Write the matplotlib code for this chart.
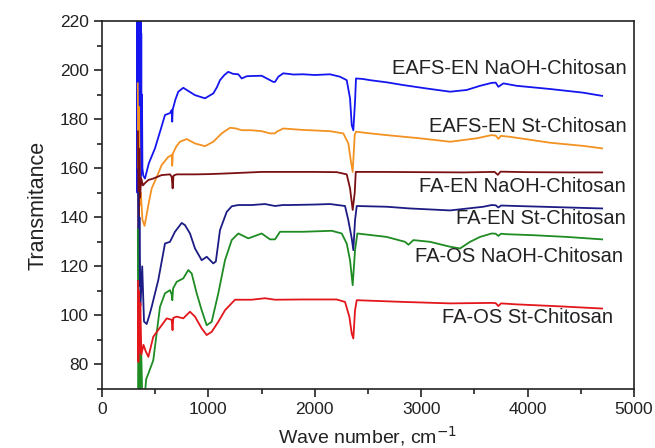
import numpy as np
import matplotlib
matplotlib.use('Agg')
import matplotlib.pyplot as plt
from matplotlib.ticker import MultipleLocator

# (wave number cm-1, transmittance)
eafs_naoh = [(331, 225), (333, 150), (335, 225), (337, 152), (339, 225), (341, 150), (343, 225),
             (345, 152), (347, 225), (349, 150), (351, 225), (353, 152), (355, 225), (357, 155),
             (359, 225), (361, 153), (363, 225), (366, 157), (369, 215), (372, 158), (376, 190),
             (380, 160), (388, 157), (404, 155.8), (440, 162), (498, 168.1), (560, 177),
             (592, 181.7), (640, 182.5), (655, 183.7), (660, 179), (665, 184), (690, 188), (717, 191.2),
             (764, 192.8), (811, 191.5), (874, 189.8), (968, 188.5), (1046, 190.5), (1080, 193),
             (1109, 195.9), (1150, 198), (1187, 199.3), (1230, 198.5), (1281, 198.3), (1313, 196.6),
             (1360, 197.5), (1407, 197.6), (1501, 197.7), (1579, 195.9), (1610, 195.2), (1626, 195.2),
             (1657, 197.3), (1704, 198.7), (1800, 198.2), (1892, 198.3), (2000, 198), (2143, 198.3),
             (2237, 197.3), (2300, 195.9), (2331, 188.5), (2347, 177.6), (2362, 175.5), (2378, 187.1),
             (2387, 196.6), (2450, 196.4), (2519, 195.9), (2680, 195), (2832, 193.9), (3052, 192.5),
             (3271, 191.2), (3427, 191.9), (3553, 193.6), (3662, 194.8), (3700, 194.9), (3725, 193.2),
             (3772, 194.6), (3897, 193.6), (4211, 192.3), (4523, 190.8), (4700, 189.5)]

eafs_st = [(336, 194.6), (342, 160), (348, 185), (355, 145), (365, 150), (380, 139), (400, 136.5),
           (415, 140), (440, 146), (467, 151.8), (520, 157), (561, 161.3), (620, 164.5), (655, 165.4),
           (660, 161), (666, 166), (700, 169), (733, 170.8), (796, 171.9), (874, 170.1), (968, 169),
           (1046, 170.8), (1125, 174.2), (1203, 176.5), (1260, 176.2), (1313, 175.5), (1400, 175.5),
           (1501, 175.1), (1579, 174.2), (1626, 174.2), (1642, 174.9), (1704, 176.2), (1892, 175.6),
           (2000, 175.4), (2143, 175.1), (2268, 174.2), (2315, 170.1), (2340, 162.6), (2356, 158.5),
           (2375, 173.5), (2387, 174.9), (2500, 174.3), (2675, 173.5), (2989, 172.2), (3271, 170.8),
           (3521, 172.2), (3662, 173.5), (3700, 173.3), (3725, 172), (3750, 173.2), (3835, 172.8),
           (4211, 170.4), (4523, 169.1), (4700, 168.1)]

fa_en_naoh = [(338, 175), (344, 135), (350, 168), (358, 148), (368, 156), (385, 153), (405, 154),
              (436, 155.2), (482, 155.8), (561, 157.2), (639, 157.5), (655, 156.5), (664, 151.8),
              (672, 157), (702, 157.5), (874, 157.5), (1000, 157.6), (1187, 157.9), (1501, 158.5),
              (1626, 158.5), (1800, 158.5), (2000, 158.5), (2206, 158.4), (2300, 157.5), (2331, 151.8),
              (2356, 143), (2375, 150), (2385, 158.5), (2600, 158.5), (3000, 158.4), (3400, 158.3),
              (3690, 158.5), (3720, 157.3), (3745, 158.6), (4000, 158.4), (4400, 158.3), (4700, 158.3)]

fa_en_st = [(340, 150), (346, 112), (352, 140), (362, 104), (378, 120), (395, 97.5), (420, 96.5),
            (445, 100), (467, 103.5), (529, 114.4), (592, 129.3), (639, 130), (686, 134.1),
            (749, 137.7), (780, 136.8), (827, 133.4), (874, 127.3), (937, 122.5), (984, 123.9),
            (1046, 121.2), (1070, 122), (1109, 134.8), (1172, 142.2), (1220, 144.5), (1281, 145),
            (1407, 145), (1532, 145.4), (1579, 145), (1626, 144.6), (1700, 145), (1767, 145),
            (2000, 145.2), (2143, 145.4), (2284, 144.6), (2315, 138.8), (2347, 131.4), (2362, 126.6),
            (2378, 138.8), (2394, 144.6), (2675, 144.3), (2895, 143.6), (3271, 142.8), (3584, 144.3),
            (3662, 145), (3700, 144.9), (3725, 144), (3750, 144.8), (3897, 144.6), (4300, 144.1),
            (4700, 143.6)]

fa_os_naoh = [(337, 135), (343, 65), (349, 105), (356, 66), (366, 90), (380, 64), (400, 66),
              (415, 74), (436, 76.3), (482, 81.7), (545, 103.5), (592, 109), (639, 110.3),
              (655, 108.5), (661, 106.2), (668, 111), (702, 113.7), (764, 115.1), (811, 118.5),
              (843, 117.1), (890, 109), (937, 102.1), (984, 96), (1031, 97.4), (1093, 109),
              (1156, 122.5), (1219, 130.7), (1281, 133.4), (1375, 131.4), (1501, 133.4), (1579, 131),
              (1626, 131), (1673, 134.1), (1892, 134.1), (2159, 134.5), (2253, 133.4), (2300, 129.3),
              (2331, 122.5), (2356, 112.3), (2378, 126.6), (2400, 133.4), (2675, 132), (2848, 130),
              (2880, 128.8), (2926, 130.7), (3083, 130), (3271, 128), (3365, 127.3), (3459, 130),
              (3553, 132), (3662, 133.4), (3700, 133.3), (3725, 132.4), (3750, 133.3), (3803, 133.1),
              (4054, 132.7), (4367, 132), (4700, 131)]

fa_os_st = [(338, 114), (342, 81), (347, 110), (353, 85), (360, 105), (370, 84), (390, 88),
            (410, 85.5), (436, 83.1), (482, 91.3), (561, 96), (608, 98.8), (655, 98.2), (663, 94),
            (670, 99), (702, 99.5), (764, 98.8), (827, 101.5), (874, 99.5), (937, 94.7), (984, 92),
            (1031, 93.3), (1093, 97.4), (1156, 102.1), (1250, 106.4), (1407, 106.4), (1532, 107),
            (1626, 106.4), (1892, 106.5), (2206, 106.5), (2284, 105.5), (2325, 99.4), (2347, 92.6),
            (2362, 90.6), (2378, 102.1), (2394, 106.2), (2832, 105.5), (3271, 104.9), (3662, 105.1),
            (3700, 105), (3725, 103.8), (3750, 104.9), (3897, 104.5), (4300, 103.7), (4700, 102.8)]

series = [
    (eafs_naoh, '#1515f0', 'EAFS-EN NaOH-Chitosan', 200.7),
    (eafs_st, '#f39222', 'EAFS-EN St-Chitosan', 176.9),
    (fa_en_naoh, '#7a1012', 'FA-EN NaOH-Chitosan', 152.4),
    (fa_en_st, '#1c1c85', 'FA-EN St-Chitosan', 139.5),
    (fa_os_naoh, '#1e8c22', 'FA-OS NaOH-Chitosan', 123.9),
    (fa_os_st, '#e3161c', 'FA-OS St-Chitosan', 99.2),
]
label_right = [4935, 4935, 4925, 4925, 4900, 4800]

plt.rcParams['font.family'] = ['Liberation Sans', 'DejaVu Sans']

fig = plt.figure(figsize=(6.55, 4.48), dpi=100)
ax = fig.add_axes([0.1557, 0.1317, 0.8123, 0.8213])

for (pts, col, name, ylab), xr in zip(series, label_right):
    wx, ty = np.array(pts).T
    ax.plot(wx, ty, color=col, lw=1.3)
    ax.text(xr, ylab, name, ha='right', va='center', fontsize=14.5, color='#222222')

ax.set_xlim(0, 5000)
ax.set_ylim(70, 220)
ax.xaxis.set_major_locator(MultipleLocator(1000))
ax.xaxis.set_minor_locator(MultipleLocator(500))
ax.yaxis.set_major_locator(MultipleLocator(20))
ax.yaxis.set_minor_locator(MultipleLocator(10))
ax.set_yticks(np.arange(80, 221, 20))
ax.tick_params(which='both', direction='out', top=False, right=False, labelsize=12.5, colors='#222222')
ax.tick_params(which='major', length=6, width=1.2)
ax.tick_params(which='minor', length=3.5, width=1.2)
for s in ax.spines.values():
    s.set_linewidth(1.2)
    s.set_color('#222222')

ax.set_xlabel('Wave number, cm$^{-1}$', fontsize=14, color='#222222', labelpad=5)
ax.set_ylabel('Transmitance', fontsize=15.5, color='#222222', labelpad=8)

plt.savefig('out.png', dpi=100)
